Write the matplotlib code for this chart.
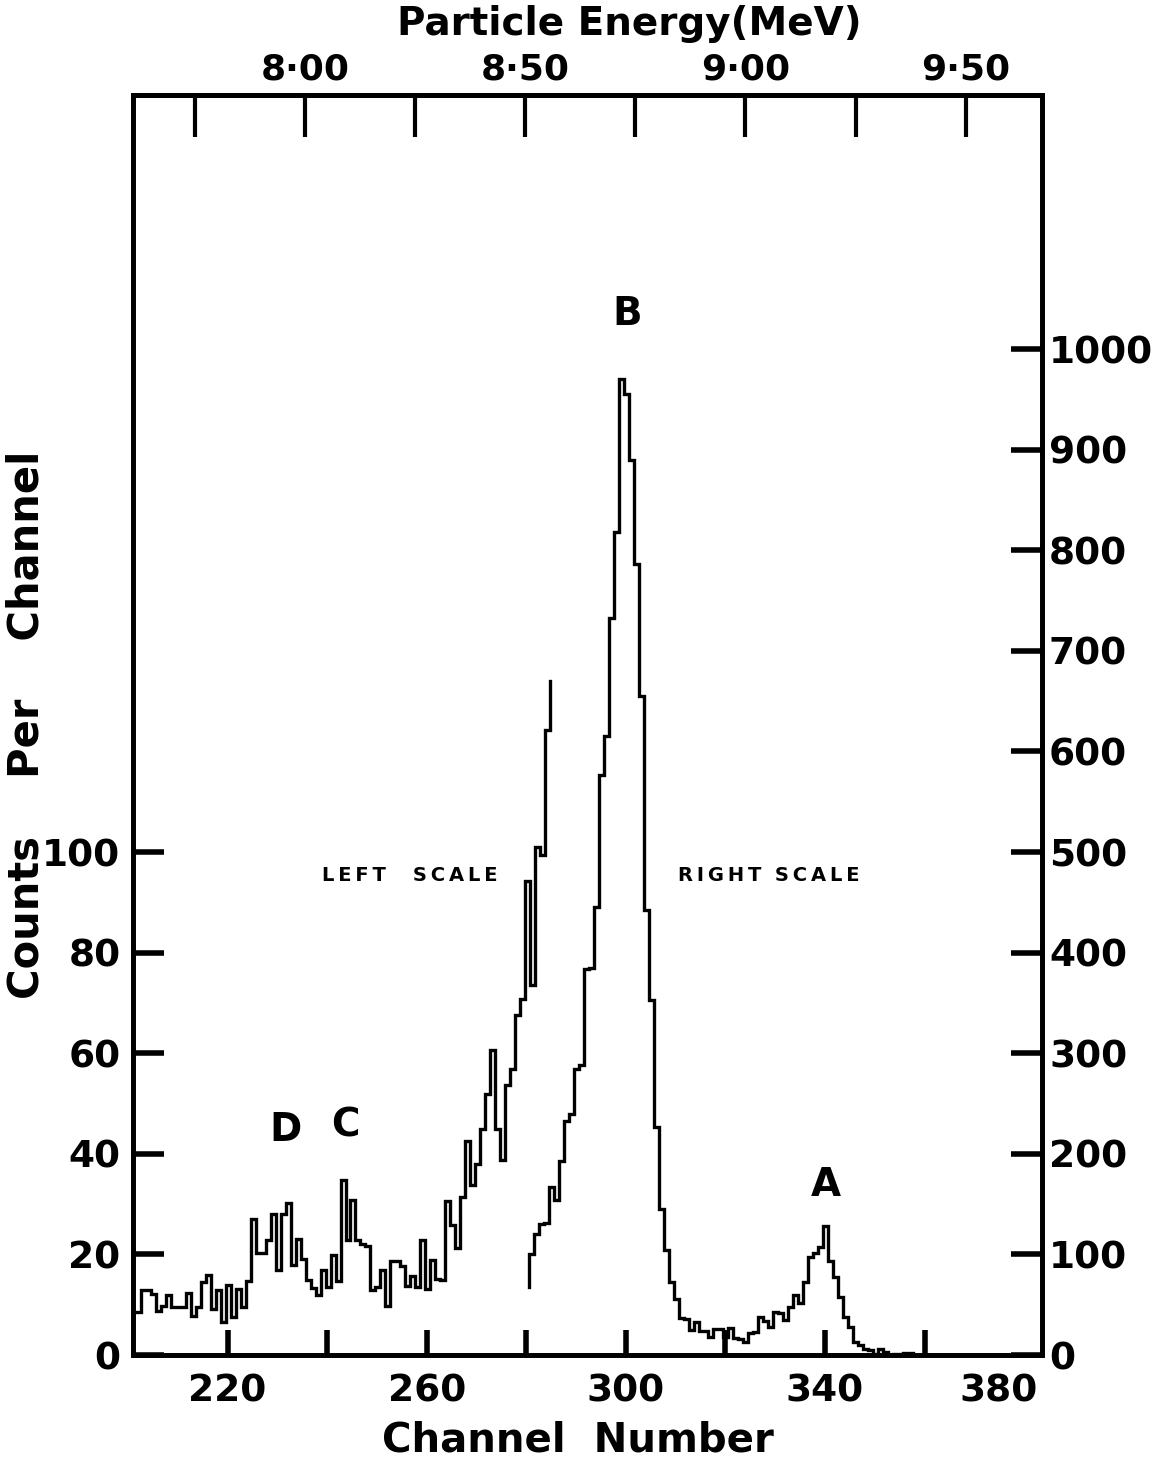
import numpy as np
import matplotlib
matplotlib.use("Agg")
import matplotlib.pyplot as plt

# ---------------- data ----------------
# Left-scale spectrum: counts per channel, first bin edge at LEFT_START
LEFT_START = 201.7
left_counts = [8.6, 12.9, 12.9, 12.1, 8.8, 9.8, 12.0, 9.5, 9.5, 9.5,
               12.3, 7.7, 9.5, 14.6, 16.0, 9.1, 13.0, 6.6, 14.0, 7.6,
               13.1, 9.6, 14.7, 27.0, 20.2, 20.2, 22.8, 28.0, 17.0, 28.0,
               30.3, 17.8, 23.0, 19.0, 15.0, 13.3, 11.9, 16.9, 13.6, 19.9,
               14.7, 34.8, 22.9, 30.8, 22.9, 22.0, 21.6, 13.0, 13.6, 16.9,
               9.7, 18.7, 18.7, 17.7, 13.7, 15.7, 13.6, 22.9, 13.2, 18.8,
               15.1, 14.9, 30.6, 25.9, 21.3, 31.5, 42.5, 33.8, 37.9, 44.9,
               51.8, 60.6, 44.9, 38.8, 53.6, 56.9, 67.5, 70.8, 94.3, 73.5,
               101.0, 99.5, 124.3]
LEFT_END_VALUE = 134

# Right-scale spectrum: counts per channel, first bin edge at RIGHT_START
RIGHT_START = 280.6
RIGHT_FLOOR = 68
right_counts = [100, 120, 130, 131, 167, 154, 193, 233, 240, 284,
                288, 384, 385, 445, 577, 615, 733, 818, 970, 955,
                890, 786, 655, 442, 353, 227, 145, 104, 73, 56,
                37, 36, 25, 33, 24, 24, 18, 26, 26, 18,
                27, 17, 16, 13, 22, 23, 38, 34, 28, 43,
                42, 35, 48, 60, 52, 73, 97, 101, 107, 128,
                93, 78, 58, 38, 28, 13, 10, 6, 5, 1.5,
                6, 3, 0.5, 1.5, 1.5, 2.5, 2.5, 0.5, 0.5, 0.3]

channel_ticks = [220, 240, 260, 280, 300, 320, 340, 360]
channel_labels = ["220", "", "260", "", "300", "", "340", ""]
last_channel_label = "380"
left_ticks = [0, 20, 40, 60, 80, 100]
right_ticks = [0, 100, 200, 300, 400, 500, 600, 700, 800, 900, 1000]
energy_ticks = [7.75, 8.00, 8.25, 8.50, 8.75, 9.00, 9.25, 9.50]
energy_labels = ["", "8·00", "", "8·50", "", "9·00", "", "9·50"]
# energy calibration: channel = CH0 + SLOPE * (E - E0)
CH0, E0, SLOPE = 290.85, 8.625, 88.46

peak_labels = ["A", "B", "C", "D"]
peak_channels = [340.2, 300.3, 243.6, 231.6]
peak_heights = [33.8, 207.0, 45.7, 44.7]

# ---------------- drawing ----------------
FONT = "DejaVu Sans"
plt.rcParams["font.family"] = FONT
plt.rcParams["font.weight"] = "bold"

fig = plt.figure(figsize=(11.66, 14.66), dpi=100)
ax = fig.add_axes([0.114, 0.0757, 0.7797, 0.8595])
ax2 = ax.twinx()

XMIN, XMAX = 201.0, 383.6
YTOP = 250.5
ax.set_xlim(XMIN, XMAX)
ax.set_ylim(0, YTOP)
ax2.set_ylim(0, YTOP * 5)


def step_path(start, vals):
    edges = start + np.arange(len(vals) + 1)
    xs = np.repeat(edges, 2)[1:-1]
    ys = np.repeat(np.asarray(vals, dtype=float), 2)
    return xs, ys, edges


lx, ly, ledges = step_path(LEFT_START, left_counts)
lx = np.append(lx, ledges[-1])
ly = np.append(ly, LEFT_END_VALUE)
ax.plot(lx, ly, color="black", lw=2.4, solid_joinstyle="miter")

rx, ry, redges = step_path(RIGHT_START, right_counts)
rx = np.insert(rx, 0, redges[0])
ry = np.insert(ry, 0, RIGHT_FLOOR)
ax2.plot(rx, ry, color="black", lw=2.4, solid_joinstyle="miter")

for a in (ax, ax2):
    for s in a.spines.values():
        s.set_linewidth(3.4)

# bottom axis
ax.set_xticks(channel_ticks, labels=channel_labels)
ax.tick_params(axis="x", direction="in", length=18, width=4, labelsize=27,
               pad=13, top=False)
ax.annotate(last_channel_label, xy=(374.8, 0),
            xycoords=("data", "axes fraction"),
            xytext=(0, -13), textcoords="offset points", ha="center",
            va="top", fontsize=27, fontweight="bold")
ax.set_xlabel("Channel  Number", fontsize=29, fontweight="bold")
ax.xaxis.set_label_coords(0.49, -0.052)

# left axis
ax.set_yticks(left_ticks)
ax.tick_params(axis="y", direction="in", length=22, width=4, labelsize=27,
               pad=9)
ax.set_ylabel("Counts    Per    Channel", fontsize=30, fontweight="bold")
ax.yaxis.set_label_coords(-0.094, 0.5)

# right axis
ax2.set_yticks(right_ticks)
ax2.tick_params(axis="y", direction="in", length=22, width=4, labelsize=27,
                pad=5)

# top energy axis
def ch2e(c):
    return E0 + (np.asarray(c) - CH0) / SLOPE


def e2ch(e):
    return CH0 + SLOPE * (np.asarray(e) - E0)


top = ax.secondary_xaxis("top", functions=(ch2e, e2ch))
top.set_xticks(energy_ticks, labels=energy_labels)
top.tick_params(axis="x", direction="in", length=30, width=3, labelsize=26,
                pad=6)
top.spines["top"].set_linewidth(3.4)
fig.text(0.540, 0.9835, "Particle Energy(MeV)", ha="center", va="center",
         fontsize=28, fontweight="bold")

for lab, c, h in zip(peak_labels, peak_channels, peak_heights):
    ax.text(c, h, lab, ha="center", va="center", fontsize=28,
            fontweight="bold")

ax.text(256.7, 95.4, "L\u2009E\u2009F\u2009T    S\u2009C\u2009A\u2009L\u2009E",
        ha="center", va="center", fontsize=14, fontweight="heavy")
ax.text(328.8, 95.4, "R\u2009I\u2009G\u2009H\u2009T  S\u2009C\u2009A\u2009L\u2009E",
        ha="center", va="center", fontsize=14, fontweight="heavy")

fig.savefig("out.png", dpi=100)
